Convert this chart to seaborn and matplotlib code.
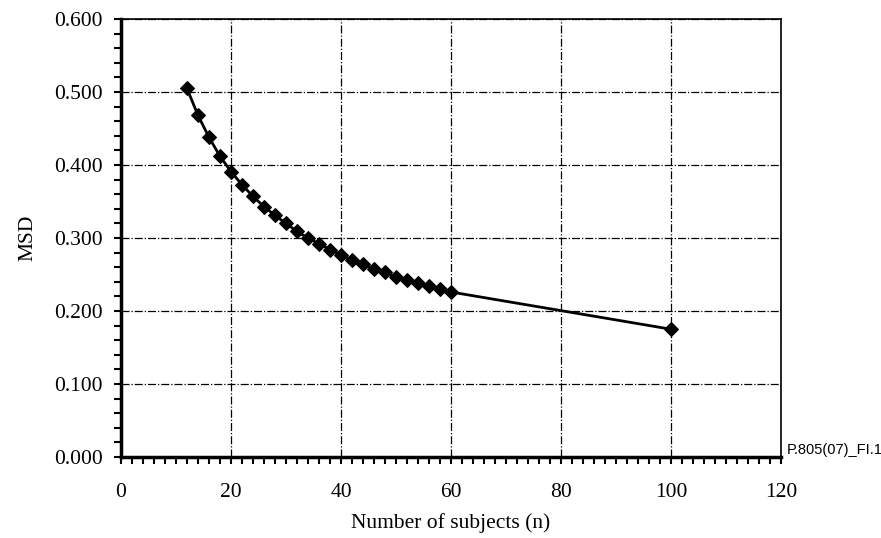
import matplotlib
matplotlib.use('Agg')
import matplotlib.pyplot as plt
from matplotlib.ticker import MultipleLocator, FormatStrFormatter
import pandas as pd
import seaborn as sns

# Dados
n_sujeitos = [12, 14, 16, 18, 20, 22, 24, 26, 28, 30, 32, 34, 36, 38, 40,
              42, 44, 46, 48, 50, 52, 54, 56, 58, 60, 100]
msd = [0.505, 0.468, 0.438, 0.412, 0.391, 0.373, 0.357, 0.343, 0.331, 0.320,
       0.309, 0.300, 0.292, 0.284, 0.277, 0.270, 0.264, 0.258, 0.253, 0.247,
       0.243, 0.238, 0.234, 0.230, 0.226, 0.175]

df = pd.DataFrame({'n': n_sujeitos, 'msd': msd})

sns.set_style('white')
plt.rcParams['font.family'] = ['Liberation Serif', 'DejaVu Serif']
plt.rcParams['text.color'] = 'black'
plt.rcParams['axes.labelcolor'] = 'black'

fig = plt.figure(figsize=(8.81, 5.38), dpi=100)
ax = fig.add_axes([0.1373, 0.1506, 0.7492, 0.8141])

sns.lineplot(x='n', y='msd', data=df, ax=ax, color='black', linewidth=2,
             marker='D', markersize=7, markeredgecolor='black')

ax.set_xlim(0, 120)
ax.set_ylim(0, 0.6)
ax.xaxis.set_major_locator(MultipleLocator(20))
ax.xaxis.set_minor_locator(MultipleLocator(2))
ax.yaxis.set_major_locator(MultipleLocator(0.1))
ax.yaxis.set_minor_locator(MultipleLocator(0.02))
ax.yaxis.set_major_formatter(FormatStrFormatter('%.3f'))

ax.grid(True, which='major', color='black', linestyle='-.', linewidth=0.9)
ax.tick_params(which='both', direction='out', length=5, width=1.5,
               colors='black', labelsize=15.5, bottom=True, left=True)
ax.tick_params(axis='x', pad=14)
ax.tick_params(axis='y', pad=8)

for lado in ['left', 'bottom']:
    ax.spines[lado].set_linewidth(2.5)
for lado in ['top', 'right']:
    ax.spines[lado].set_linewidth(1.2)
for s in ax.spines.values():
    s.set_color('black')

ax.set_xlabel('Number of subjects (n)', fontsize=15.5, labelpad=8)
ax.set_ylabel('MSD', fontsize=15.5, labelpad=12)

fig.text(0.893, 0.163, 'P.805(07)_FI.1', fontsize=10.5,
         family=['Liberation Sans', 'DejaVu Sans'], va='center', ha='left')

fig.savefig('out.png', dpi=100)
